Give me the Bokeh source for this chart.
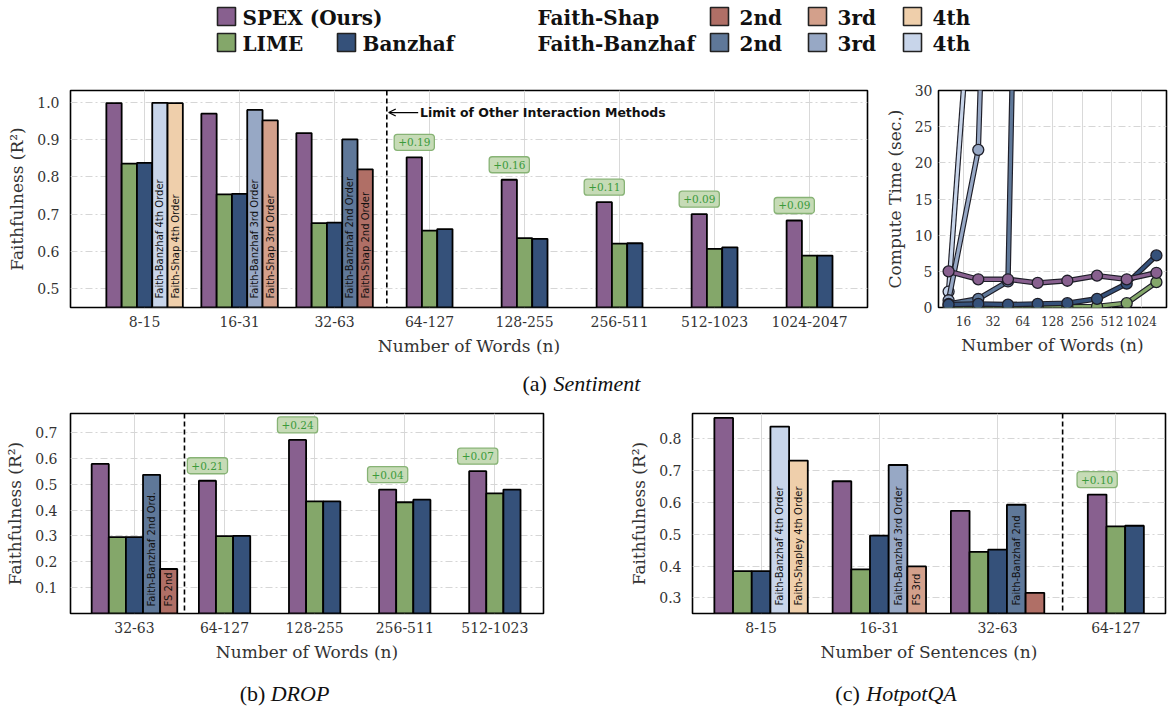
import numpy as np
from bokeh.plotting import figure
from bokeh.layouts import column, row
from bokeh.models import Range1d, FixedTicker, NumeralTickFormatter, Span, Arrow, OpenHead
from bokeh.core.properties import value
from bokeh.embed import file_html
from bokeh.resources import INLINE

# ---------------- data ----------------
sent_groups = ["8-15", "16-31", "32-63", "64-127", "128-255", "256-511", "512-1023", "1024-2047"]
sent_spex = [0.997, 0.969, 0.917, 0.852, 0.792, 0.732, 0.700, 0.683]
sent_lime = [0.835, 0.753, 0.676, 0.656, 0.636, 0.621, 0.607, 0.589]
sent_banzhaf = [0.837, 0.754, 0.677, 0.660, 0.634, 0.622, 0.611, 0.589]
sent_fb = [0.998, 0.979, 0.900]
sent_fs = [0.997, 0.951, 0.820]
sent_orders = ["4th", "3rd", "2nd"]
sent_fb_labels = ["Faith-Banzhaf 4th Order", "Faith-Banzhaf 3rd Order", "Faith-Banzhaf 2nd Order"]
sent_fs_labels = ["Faith-Shap 4th Order", "Faith-Shap 3rd Order", "Faith-Shap 2nd Order"]
sent_gain = ["+0.19", "+0.16", "+0.11", "+0.09", "+0.09"]
sent_limit = 2.55
sent_yticks = [0.5, 0.6, 0.7, 0.8, 0.9, 1.0]

drop_groups = ["32-63", "64-127", "128-255", "256-511", "512-1023"]
drop_spex = [0.578, 0.513, 0.671, 0.479, 0.550]
drop_lime = [0.295, 0.299, 0.433, 0.430, 0.464]
drop_banzhaf = [0.295, 0.300, 0.433, 0.440, 0.479]
drop_fb = [0.536]
drop_fs = [0.172]
drop_orders = ["2nd"]
drop_fb_labels = ["Faith-Banzhaf 2nd Ord."]
drop_fs_labels = ["FS 2nd"]
drop_gain = ["+0.21", "+0.24", "+0.04", "+0.07"]
drop_limit = 0.555
drop_yticks = [0.1, 0.2, 0.3, 0.4, 0.5, 0.6, 0.7]

hot_groups = ["8-15", "16-31", "32-63", "64-127"]
hot_spex = [0.866, 0.667, 0.574, 0.625]
hot_lime = [0.384, 0.390, 0.445, 0.525]
hot_banzhaf = [0.384, 0.496, 0.452, 0.527]
hot_fb = [0.839, 0.718, 0.593]
hot_fs = [0.732, 0.399, 0.316]
hot_orders = ["4th", "3rd", "2nd"]
hot_fb_labels = ["Faith-Banzhaf 4th Order", "Faith-Banzhaf 3rd Order", "Faith-Banzhaf 2nd"]
hot_fs_labels = ["Faith-Shapley 4th Order", "FS 3rd", ""]
hot_gain = ["+0.10"]
hot_limit = 2.55
hot_yticks = [0.3, 0.4, 0.5, 0.6, 0.7, 0.8]

time_x = [3.5, 4.5, 5.5, 6.5, 7.5, 8.5, 9.5, 10.5]          # log2(n)
time_xticks = [4, 5, 6, 7, 8, 9, 10]
time_xlabels = ["16", "32", "64", "128", "256", "512", "1024"]
time_yticks = [0, 5, 10, 15, 20, 25, 30]
time_spex = [5.0, 3.9, 3.9, 3.4, 3.7, 4.4, 3.9, 4.8]
time_lime = [0.1, 0.1, 0.1, 0.1, 0.1, 0.15, 0.6, 3.5]
time_banzhaf = [0.4, 0.5, 0.4, 0.5, 0.6, 1.2, 3.3, 7.2]
time_fb2 = [0.5, 1.2, 3.6, 200.0]
time_fb3 = [1.0, 21.8, 150.0]
time_fb4 = [2.2, 58.0]

legend_row1 = [("SPEX (Ours)", "spex"), ("Faith-Shap", None), ("2nd", "fs2nd"), ("3rd", "fs3rd"), ("4th", "fs4th")]
legend_row2 = [("LIME", "lime"), ("Banzhaf", "banz"), ("Faith-Banzhaf", None), ("2nd", "fb2nd"), ("3rd", "fb3rd"), ("4th", "fb4th")]

captions = [("(a)", "Sentiment"), ("(b)", "DROP"), ("(c)", "HotpotQA")]

# ---------------- styles ----------------
C_SPEX = "#88608f"
C_LIME = "#84a76a"
C_BANZ = "#35517a"
FS_C = {"2nd": "#b06f66", "3rd": "#d3a08b", "4th": "#efcfab"}
FB_C = {"2nd": "#5f7899", "3rd": "#97a8c5", "4th": "#c8d5ea"}
COLORS = {"spex": C_SPEX, "lime": C_LIME, "banz": C_BANZ,
          "fs2nd": FS_C["2nd"], "fs3rd": FS_C["3rd"], "fs4th": FS_C["4th"],
          "fb2nd": FB_C["2nd"], "fb3rd": FB_C["3rd"], "fb4th": FB_C["4th"]}
SERIF = "DejaVu Serif"
TXT = "#333333"
W = 1170


def base_fig(width, height, xr, yr, bl, br, bt, bb, xticks, yticks, xlab, ylab,
             xfmt=None, yfmt="0.0", ystand=11):
    p = figure(width=width, height=height, x_range=Range1d(*xr), y_range=Range1d(*yr),
               output_backend="svg", toolbar_location=None, title=None,
               min_border_left=bl, min_border_right=br, min_border_top=bt, min_border_bottom=bb)
    p.background_fill_color = "white"
    p.border_fill_color = "white"
    p.outline_line_color = "black"
    p.outline_line_width = 1.6
    p.xaxis.ticker = FixedTicker(ticks=list(xticks))
    p.yaxis.ticker = FixedTicker(ticks=list(yticks))
    if xfmt is not None:
        p.xaxis.major_label_overrides = xfmt
    p.yaxis.formatter = NumeralTickFormatter(format=yfmt)
    for ax in p.axis:
        ax.axis_line_color = None
        ax.major_tick_line_color = None
        ax.minor_tick_line_color = None
        ax.major_tick_out = 0
        ax.major_tick_in = 0
        ax.minor_tick_out = 0
        ax.minor_tick_in = 0
        ax.major_label_text_font = SERIF
        ax.major_label_text_font_size = "14px"
        ax.major_label_text_color = TXT
        ax.axis_label_text_font = SERIF
        ax.axis_label_text_font_size = "17px"
        ax.axis_label_text_font_style = "normal"
        ax.axis_label_text_color = TXT
    p.xaxis.axis_label = xlab
    p.yaxis.axis_label = ylab
    p.xaxis.major_label_standoff = 8
    p.xaxis.axis_label_standoff = 6
    p.yaxis.major_label_standoff = ystand
    p.yaxis.axis_label_standoff = 7
    p.xgrid.grid_line_color = "#d9d9d9"
    p.xgrid.grid_line_width = 1
    p.ygrid.grid_line_color = "#d6d6d6"
    p.ygrid.grid_line_width = 1
    p.ygrid.grid_line_dash = "7 3 2 3"
    return p


def bar_panel(p, groups, spex, lime, banz, fb, fs, orders, fb_labels, fs_labels, gains,
              w, ystart, label_pad):
    n = len(groups)
    k = len(fb)
    xs_spex = [i - 2 * w if i < k else i - w for i in range(n)]
    xs_lime = [i - w if i < k else i for i in range(n)]
    xs_banz = [i if i < k else i + w for i in range(n)]
    xs_fb = [i + w for i in range(k)]
    xs_fs = [i + 2 * w for i in range(k)]
    lw = 1.8
    p.vbar(x=xs_spex, top=spex, bottom=ystart - 1, width=w, fill_color=C_SPEX, line_color="black", line_width=lw)
    p.vbar(x=xs_lime, top=lime, bottom=ystart - 1, width=w, fill_color=C_LIME, line_color="black", line_width=lw)
    p.vbar(x=xs_banz, top=banz, bottom=ystart - 1, width=w, fill_color=C_BANZ, line_color="black", line_width=lw)
    p.vbar(x=xs_fb, top=fb, bottom=ystart - 1, width=w, fill_color=[FB_C[o] for o in orders],
           line_color="black", line_width=lw)
    p.vbar(x=xs_fs, top=fs, bottom=ystart - 1, width=w, fill_color=[FS_C[o] for o in orders],
           line_color="black", line_width=lw)
    # rotated labels in interaction bars
    p.text(x=xs_fb + xs_fs, y=[ystart] * (2 * k), text=list(fb_labels) + list(fs_labels),
           angle=np.pi / 2, text_align="left", text_baseline="middle", y_offset=-label_pad,
           text_font=value("DejaVu Sans"), text_font_size="10px", text_color="#111111")
    # gain annotations
    gx = xs_spex[k:]
    gy = spex[k:]
    p.text(x=gx, y=gy, text=gains, text_align="center", text_baseline="bottom", y_offset=-7,
           text_font=value(SERIF), text_font_size="10.5px", text_color="#3a9a3a",
           background_fill_color="#c6dbb6", border_line_color="#87b375", border_line_width=1.3,
           padding=4, border_radius=3)


# ---------------- legend ----------------
leg = figure(width=W, height=74, x_range=Range1d(0, W), y_range=Range1d(74, 0),
             output_backend="svg", toolbar_location=None, title=None,
             x_axis_location=None, y_axis_location=None, min_border=0)
leg.outline_line_color = None
leg.xgrid.visible = False
leg.ygrid.visible = False
row_y = [17, 43]
r1_text_x = [242, 537, 739, 837, 932]
r1_patch_x = [226, None, 719, 817, 912]
r2_text_x = [242, 362, 537, 739, 837, 932]
r2_patch_x = [226, 346, None, 719, 817, 912]
for items, tx, px, yy in [(legend_row1, r1_text_x, r1_patch_x, row_y[0]),
                          (legend_row2, r2_text_x, r2_patch_x, row_y[1])]:
    pxs = [px[j] for j in range(len(items)) if items[j][1] is not None]
    pcs = [COLORS[items[j][1]] for j in range(len(items)) if items[j][1] is not None]
    leg.rect(x=pxs, y=[yy - 1] * len(pxs), width=18, height=18, fill_color=pcs,
             line_color="#222222", line_width=1.6)
    leg.text(x=tx, y=[yy] * len(tx), text=[it[0] for it in items], text_align="left",
             text_baseline="middle", text_font=value(SERIF), text_font_style="bold",
             text_font_size="20px", text_color="#111111")

# ---------------- (a) sentiment ----------------
pa = base_fig(870, 294, (-0.78, 7.61), (0.45, 1.031), 70, 3, 16, 61,
              range(len(sent_groups)), sent_yticks, "Number of Words (n)", "Faithfulness (R²)",
              xfmt={i: g for i, g in enumerate(sent_groups)}, ystand=11)
bar_panel(pa, sent_groups, sent_spex, sent_lime, sent_banzhaf, sent_fb, sent_fs, sent_orders,
          sent_fb_labels, sent_fs_labels, sent_gain, 0.161, 0.45, 9)
pa.add_layout(Span(location=sent_limit, dimension="height", line_color="black",
                   line_dash="5 3", line_width=1.6))
pa.add_layout(Arrow(end=OpenHead(size=7, line_width=1.3, line_color="black"),
                    x_start=sent_limit + 0.33, y_start=0.972, x_end=sent_limit + 0.02, y_end=0.972,
                    line_width=1.3, line_color="black"))
pa.text(x=[sent_limit + 0.35], y=[0.972], text=["Limit of Other Interaction Methods"],
        text_align="left", text_baseline="middle", text_font=value("DejaVu Sans"),
        text_font_style="bold", text_font_size="12.5px", text_color="#111111")

# ---------------- compute time ----------------
pt = base_fig(300, 294, (3.16, 10.84), (0, 30), 68, 4, 16, 61,
              time_xticks, time_yticks, "Number of Words (n)", "Compute Time (sec.)",
              xfmt={t: l for t, l in zip(time_xticks, time_xlabels)}, yfmt="0", ystand=6)
pt.xaxis.major_label_text_font_size = "12px"
for ys, col in [(time_fb4, FB_C["4th"]), (time_fb3, FB_C["3rd"]), (time_fb2, FB_C["2nd"]),
                (time_lime, C_LIME), (time_banzhaf, C_BANZ), (time_spex, C_SPEX)]:
    xs = time_x[:len(ys)]
    pt.line(xs, ys, line_color="#1e1e28", line_width=5.5)
    pt.line(xs, ys, line_color=col, line_width=3.2)
    pt.scatter(xs, ys, size=11, fill_color=col, line_color="#1e1e28", line_width=1.3)

# ---------------- (b) DROP ----------------
pb = base_fig(600, 275, (-0.71, 4.54), (0.0, 0.773), 70, 57, 15, 60,
              range(len(drop_groups)), drop_yticks, "Number of Words (n)", "Faithfulness (R²)",
              xfmt={i: g for i, g in enumerate(drop_groups)}, ystand=13)
bar_panel(pb, drop_groups, drop_spex, drop_lime, drop_banzhaf, drop_fb, drop_fs, drop_orders,
          drop_fb_labels, drop_fs_labels, drop_gain, 0.19, 0.0, 7)
pb.add_layout(Span(location=drop_limit, dimension="height", line_color="black",
                   line_dash="5 3", line_width=1.6))

# ---------------- (c) HotpotQA ----------------
pc = base_fig(570, 275, (-0.58, 3.42), (0.251, 0.88), 92, 5, 15, 60,
              range(len(hot_groups)), hot_yticks, "Number of Sentences (n)", "Faithfulness (R²)",
              xfmt={i: g for i, g in enumerate(hot_groups)}, ystand=11)
bar_panel(pc, hot_groups, hot_spex, hot_lime, hot_banzhaf, hot_fb, hot_fs, hot_orders,
          hot_fb_labels, hot_fs_labels, hot_gain, 0.158, 0.251, 8)
pc.add_layout(Span(location=hot_limit, dimension="height", line_color="black",
                   line_dash="5 3", line_width=1.6))


# ---------------- captions ----------------
def caption_fig(height, ytop, items):
    c = figure(width=W, height=height, x_range=Range1d(0, W), y_range=Range1d(ytop + height, ytop),
               output_backend="svg", toolbar_location=None, title=None,
               x_axis_location=None, y_axis_location=None, min_border=0)
    c.outline_line_color = None
    c.xgrid.visible = False
    c.ygrid.visible = False
    for (pre, name), cx, cy in items:
        fs = 22
        pre_w = 1.41 * fs
        tot = pre_w + 0.53 * fs * len(name)
        x0 = cx - tot / 2
        c.text(x=[x0], y=[cy], text=[pre], text_align="left", text_baseline="middle",
               text_font=value("Liberation Serif"), text_font_size=f"{fs}px", text_color="#111111")
        c.text(x=[x0 + pre_w], y=[cy], text=[name], text_align="left", text_baseline="middle",
               text_font=value("Liberation Serif"), text_font_style="italic",
               text_font_size=f"{fs}px", text_color="#111111")
    return c


cap_a = caption_fig(30, 368, [(captions[0], 590, 383)])
cap_bc = caption_fig(35, 673, [(captions[1], 278, 693), (captions[2], 897, 693)])

layout = column(leg, row(pa, pt, spacing=0), cap_a, row(pb, pc, spacing=0), cap_bc, spacing=0)
open("out.html", "w").write(file_html(layout, INLINE))
